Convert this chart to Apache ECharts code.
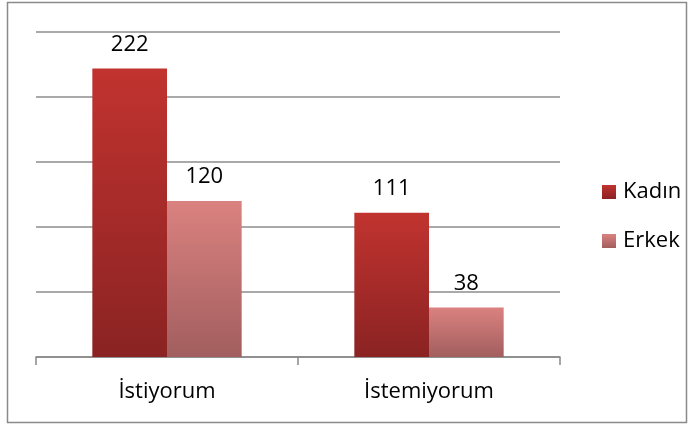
<!DOCTYPE html>
<html>
<head>
<meta charset="utf-8">
<script src="https://cdn.jsdelivr.net/npm/echarts@6/dist/echarts.min.js"></script>
<style>
  html, body { margin: 0; padding: 0; background: #fff; }
  #chart { width: 699px; height: 426px; }
</style>
</head>
<body>
<div id="chart"></div>
<script>
// categories and series
const categories = ["İstiyorum", "İstemiyorum"];
const kadinValues = [222, 111];
const erkekValues = [120, 38];
const seriesNames = ["Kadın", "Erkek"];

const chart = echarts.init(document.getElementById("chart"));

function grad(top, bottom) {
    return new echarts.graphic.LinearGradient(0, 0, 0, 1, [
        { offset: 0, color: top },
        { offset: 1, color: bottom }
    ]);
}

const labelStyle = {
    show: true,
    position: "top",
    distance: 13,
    color: "#000",
    fontSize: 22,
    fontFamily: "Open Sans"
};

chart.setOption({
    animation: false,
    graphic: [{
        type: "rect",
        shape: { x: 7.5, y: 2.5, width: 679, height: 420 },
        style: { fill: "none", stroke: "#8a8a8a", lineWidth: 1.5 },
        silent: true
    }],
    grid: { left: 36, right: 139, top: 32, bottom: 69 },
    legend: {
        orient: "vertical",
        left: 597,
        top: 176,
        itemWidth: 14,
        itemHeight: 14,
        itemGap: 27,
        icon: "rect",
        textStyle: { fontSize: 22, fontFamily: "Open Sans", color: "#000", padding: [0, 0, 0, 2] },
        data: seriesNames
    },
    xAxis: {
        type: "category",
        data: categories,
        axisLine: { lineStyle: { color: "#888", width: 1.5 } },
        axisTick: { show: true, length: 8, lineStyle: { color: "#888", width: 1.5 } },
        axisLabel: { color: "#000", fontSize: 22, fontFamily: "Open Sans", margin: 24 }
    },
    yAxis: {
        type: "value",
        min: 0,
        max: 250,
        interval: 50,
        axisLine: { show: false },
        axisTick: { show: false },
        axisLabel: { show: false },
        splitLine: { lineStyle: { color: "#8c8c8c", width: 1.5 } }
    },
    series: [{
        name: seriesNames[0],
        type: "bar",
        data: kadinValues,
        barGap: "0%",
        barCategoryGap: "43%",
        itemStyle: { color: grad("#c1332f", "#8a2323") },
        label: labelStyle
    }, {
        name: seriesNames[1],
        type: "bar",
        data: erkekValues,
        itemStyle: { color: grad("#da8280", "#a25e5e") },
        label: labelStyle
    }]
});
</script>
</body>
</html>
